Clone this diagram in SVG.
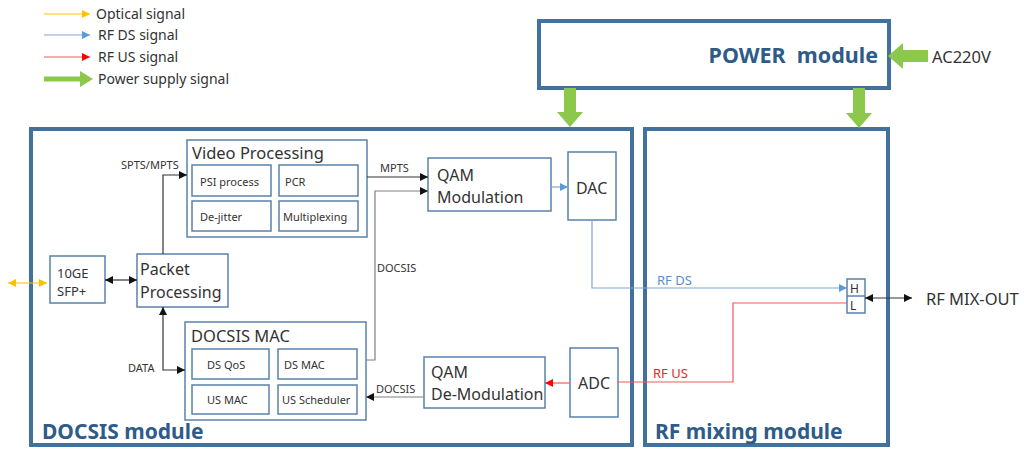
<svg xmlns="http://www.w3.org/2000/svg" width="1024" height="450" viewBox="0 0 1024 450">
<defs>
<style>
text{font-family:"Noto Sans","Open Sans","Liberation Sans",sans-serif;fill:#333333}
.mod{fill:none;stroke:#41719C;stroke-width:4}
.box{fill:#ffffff;stroke:#5A82AB;stroke-width:1.5}
.title{font-weight:bold;fill:#2E5B88;font-size:21px}
.lbl{font-size:16px}
.big{font-size:16.5px}
.sm{font-size:12px}
.xs{font-size:11px}
.leg{font-size:14px}
.blk{fill:none;stroke:#333333;stroke-width:1.2}
.gry{fill:none;stroke:#808080;stroke-width:1.2}
.ds{fill:none;stroke:#7FA7D4;stroke-width:1.2}
.us{fill:none;stroke:#F05A5A;stroke-width:1.2}
.opt{fill:none;stroke:#FFC000;stroke-width:1.2}
.pw{fill:#8CC84B;stroke:none}
</style>
<marker id="aK" viewBox="0 0 10 10" refX="10" refY="5" markerWidth="8" markerHeight="8" markerUnits="userSpaceOnUse" orient="auto-start-reverse"><path d="M0,0L10,5L0,10z" fill="#111"/></marker>
<marker id="aB" viewBox="0 0 10 10" refX="10" refY="5" markerWidth="8" markerHeight="8" markerUnits="userSpaceOnUse" orient="auto-start-reverse"><path d="M0,0L10,5L0,10z" fill="#5B9BD5"/></marker>
<marker id="aR" viewBox="0 0 10 10" refX="10" refY="5" markerWidth="8" markerHeight="8" markerUnits="userSpaceOnUse" orient="auto-start-reverse"><path d="M0,0L10,5L0,10z" fill="#FF0000"/></marker>
<marker id="aO" viewBox="0 0 10 10" refX="10" refY="5" markerWidth="8" markerHeight="8" markerUnits="userSpaceOnUse" orient="auto-start-reverse"><path d="M0,0L10,5L0,10z" fill="#FFC000"/></marker>
</defs>

<g id="legend">
<line x1="44" y1="14" x2="90" y2="14" class="opt" marker-end="url(#aO)"/>
<text x="96" y="19" class="leg">Optical signal</text>
<line x1="44" y1="35" x2="90" y2="35" class="ds" marker-end="url(#aB)"/>
<text x="98" y="40" class="leg">RF DS signal</text>
<line x1="44" y1="57" x2="90" y2="57" class="us" marker-end="url(#aR)"/>
<text x="98" y="62" class="leg">RF US signal</text>
<path d="M44,76.5H80V71L93,79L80,87V81.5H44z" class="pw"/>
<text x="98" y="84" class="leg">Power supply signal</text>
</g>

<g id="power-module">
<rect x="539" y="21" width="350" height="67" class="mod"/>
<text x="878" y="63" class="title" text-anchor="end" xml:space="preserve" style="font-size:21.5px">POWER  module</text>
</g>
<g id="ac220v">
<text x="932" y="63" class="big">AC220V</text>
</g>

<g id="docsis-module">
<rect x="31" y="129" width="601" height="316" class="mod"/>
<text x="42" y="439" class="title">DOCSIS module</text>
</g>

<g id="rf-mixing-module">
<rect x="645" y="129" width="243" height="316" class="mod"/>
<text x="655" y="439" class="title">RF mixing module</text>
</g>

<g id="sfp">
<rect x="50" y="256" width="55" height="47" class="box"/>
<text x="57" y="278" style="font-size:13px">10GE</text>
<text x="57" y="296" style="font-size:13px">SFP+</text>
</g>

<g id="packet-processing">
<rect x="137" y="254" width="91" height="53" class="box"/>
<text x="140" y="275" class="lbl">Packet</text>
<text x="140" y="298" class="lbl">Processing</text>
</g>

<g id="video-processing">
<rect x="187" y="140" width="180" height="97" class="box"/>
<text x="192" y="159" class="lbl" style="font-size:16.5px">Video Processing</text>
<rect x="192" y="165" width="79" height="31" class="box"/>
<text x="200" y="186" class="xs">PSI process</text>
<rect x="279" y="165" width="79" height="31" class="box"/>
<text x="285" y="186" class="xs">PCR</text>
<rect x="192" y="201" width="79" height="30" class="box"/>
<text x="200" y="221" class="xs">De-jitter</text>
<rect x="279" y="201" width="79" height="30" class="box"/>
<text x="283" y="221" class="xs">Multiplexing</text>
</g>

<g id="docsis-mac">
<rect x="185" y="322" width="181" height="98" class="box"/>
<text x="191" y="342" class="lbl" style="font-size:16.5px">DOCSIS MAC</text>
<rect x="192" y="349" width="77" height="30" class="box"/>
<text x="207" y="369" class="xs">DS QoS</text>
<rect x="278" y="349" width="79" height="30" class="box"/>
<text x="284" y="369" class="xs">DS MAC</text>
<rect x="192" y="385" width="77" height="29" class="box"/>
<text x="207" y="404" class="xs">US MAC</text>
<rect x="278" y="385" width="79" height="29" class="box"/>
<text x="282" y="404" class="xs">US Scheduler</text>
</g>

<g id="qam-modulation">
<rect x="428" y="158" width="123" height="53" class="box"/>
<text x="437" y="181" class="lbl">QAM</text>
<text x="437" y="203" class="lbl">Modulation</text>
</g>

<g id="dac">
<rect x="568" y="152" width="48" height="68" class="box"/>
<text x="576" y="194" class="lbl">DAC</text>
</g>

<g id="qam-demodulation">
<rect x="424" y="357" width="121" height="51" class="box"/>
<text x="431" y="378" class="lbl">QAM</text>
<text x="431" y="400" class="lbl">De-Modulation</text>
</g>

<g id="adc">
<rect x="570" y="348" width="48" height="69" class="box"/>
<text x="578" y="389" class="lbl">ADC</text>
</g>

<g id="hl-filter">
<rect x="847" y="279" width="18" height="34" class="box"/>
<line x1="847" y1="296" x2="865" y2="296" stroke="#5A82AB" stroke-width="1.5"/>
<text x="850" y="293" class="sm">H</text>
<text x="850" y="310" class="sm">L</text>
</g>

<g id="rf-mix-out">
<text x="926" y="305" class="big">RF MIX-OUT</text>
</g>

<g id="connectors">
<line x1="8" y1="283" x2="47" y2="283" class="opt" marker-start="url(#aO)" marker-end="url(#aO)"/>
<line x1="105" y1="280" x2="137" y2="280" class="blk" marker-start="url(#aK)" marker-end="url(#aK)"/>
<path d="M163,254V175H187" class="blk" marker-end="url(#aK)"/>
<text x="121" y="169" class="xs">SPTS/MPTS</text>
<path d="M163,307V370H185" class="blk" marker-start="url(#aK)" marker-end="url(#aK)"/>
<text x="128" y="372" class="xs">DATA</text>
<line x1="367" y1="177" x2="428" y2="177" class="blk" marker-end="url(#aK)"/>
<text x="380" y="172" class="xs">MPTS</text>
<path d="M366,360H375V191H428" class="gry" marker-end="url(#aK)"/>
<text x="377" y="272" class="xs">DOCSIS</text>
<line x1="551" y1="187" x2="568" y2="187" class="ds" marker-end="url(#aB)"/>
<path d="M592,220V288H847" class="ds" marker-end="url(#aB)"/>
<text x="657" y="285" style="fill:#5B8EC6;font-size:13px">RF DS</text>
<path d="M847,303H733V382H618" class="us"/>
<text x="653" y="378" style="fill:#E8262B;font-size:13px">RF US</text>
<line x1="570" y1="383" x2="545" y2="383" class="us" marker-end="url(#aR)"/>
<line x1="424" y1="397" x2="366" y2="397" class="gry" marker-end="url(#aK)"/>
<text x="376" y="393" class="xs">DOCSIS</text>
<line x1="865" y1="298" x2="912" y2="298" class="blk" marker-start="url(#aK)" marker-end="url(#aK)"/>
<path d="M564,88H576V112H583L570,127L557,112H564z" class="pw"/>
<path d="M853,88H865V113H872L859,128L846,113H853z" class="pw"/>
<path d="M928,50V62H903V69L888,56L903,43V50z" class="pw"/>
</g>
</svg>
